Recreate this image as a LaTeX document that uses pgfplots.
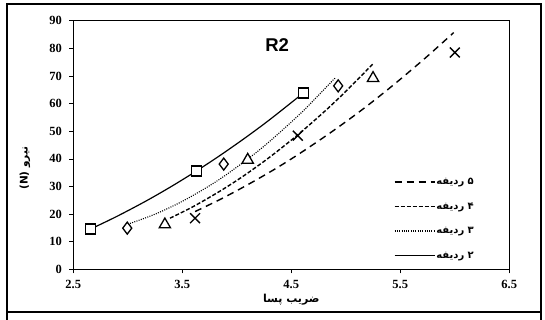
\documentclass[border=0pt]{standalone}
\usepackage{pgfplots}
\pgfplotsset{compat=1.18}
\usepackage{pgfplotstable}
\usepackage{fontspec}
\setmainfont{Liberation Serif}
\newfontfamily\arabicfont[Script=Arabic]{DejaVu Sans}
\newfontfamily\titlefont{Liberation Sans}
\TeXXeTstate=1

% measured points
\pgfplotstableread{
x y
2.66 14.6
3.63 35.6
4.61 63.8
}\rowtwo
\pgfplotstableread{
x y
2.995 14.9
3.88 38.1
4.93 66.4
}\rowthree
\pgfplotstableread{
x y
3.34 16.2
4.10 39.6
5.25 69.2
}\rowfour
\pgfplotstableread{
x y
3.617 18.5
4.56 48.4
6.0 78.5
}\rowfive

% trend curves
\pgfplotstableread{
x y
2.66 14.6
2.9 19.16
3.17 24.78
3.4 30.0
3.63 35.6
3.86 41.59
4.09 47.96
4.305 54.27
4.61 63.8
}\trendtwo
\pgfplotstableread{
x y
3.0 16.3
3.25 19.96
3.48 24.2
3.7 29.07
3.88 33.6
4.12 40.5
4.31 46.6
4.6 57.0
4.9 69.2
}\trendthree
\pgfplotstableread{
x y
3.387 18.5
3.6 22.7
3.85 28.4
4.06 33.75
4.3 40.55
4.56 48.7
4.8 56.97
5.0 64.4
5.25 74.4
}\trendfour
\pgfplotstableread{
x y
3.617 20.9
3.85 25.35
4.09 30.4
4.35 36.3
4.58 42.0
4.85 49.2
5.1 56.3
5.31 62.7
5.5 68.8
5.75 77.2
5.99 85.7
}\trendfive

\begin{document}
\begin{tikzpicture}
\useasboundingbox (-73.3pt,-50.7pt) rectangle (471.7pt,269.3pt);
\draw[line width=1.6pt] (-66.3pt,265.3pt) rectangle (467.7pt,-42.7pt);
\draw[line width=1.6pt] (-66.3pt,-42.7pt) -- (-66.3pt,-50.7pt)
                        (467.7pt,-42.7pt) -- (467.7pt,-50.7pt);
\begin{axis}[
  at={(0pt,0pt)}, anchor=south west,
  scale only axis, width=436pt, height=248.6pt,
  xmin=2.5, xmax=6.5, ymin=0, ymax=90,
  xtick={2.5,3.5,4.5,5.5,6.5},
  xticklabels={2.5,3.5,4.5,5.5,6.5},
  ytick={0,10,20,30,40,50,60,70,80,90},
  yticklabels={0,10,20,30,40,50,60,70,80,90},
  tick align=outside, xtick pos=bottom, ytick pos=left,
  major tick length=4pt,
  tick style={black, line width=0.6pt},
  axis line style={line width=1.1pt},
  ticklabel style={font=\bfseries\fontsize{12.5}{14}\selectfont},
  yticklabel style={xshift=-4pt},
  xticklabel style={yshift=-3pt},
  xlabel={\arabicfont\bfseries\beginR ضریب پسا\endR},
  xlabel style={at={(axis description cs:0.5,-0.122)}, anchor=center,
    font=\fontsize{11}{12}\selectfont},
  ylabel={\arabicfont\bfseries\beginR نیرو \beginL(N)\endL\endR},
  ylabel style={at={(axis description cs:-0.111,0.407)}, anchor=center,
    font=\fontsize{10.5}{12}\selectfont},
  legend image code/.code={\draw[#1] (0pt,0pt) -- (40pt,0pt);},
  legend style={at={(rel axis cs:0.735,0.372)}, anchor=north west,
    draw=none, fill=none, row sep=14.5pt, inner sep=0pt,
    font=\arabicfont\bfseries\fontsize{10}{11}\selectfont,
    nodes={inner sep=1pt, text height=6.5pt, text depth=1.5pt}},
  legend cell align=left,
]
% trend curves (these carry the legend)
\addplot[black, line width=1.4pt, dash pattern=on 7pt off 5pt, smooth] table {\trendfive};
\addlegendentry{\beginR ۵ ردیفه\endR}
\addplot[black, line width=1.4pt, dash pattern=on 4pt off 2pt, smooth] table {\trendfour};
\addlegendentry{\beginR ۴ ردیفه\endR}
\addplot[black, line width=1.1pt, dash pattern=on 1pt off 1.3pt, smooth] table {\trendthree};
\addlegendentry{\beginR ۳ ردیفه\endR}
\addplot[black, line width=1.2pt, smooth] table {\trendtwo};
\addlegendentry{\beginR ۲ ردیفه\endR}

% measured points
\addplot[only marks, forget plot, mark=square*, mark size=5pt,
  mark options={fill=white, draw=black, line width=1.3pt}] table {\rowtwo};
\addplot[only marks, forget plot, mark=diamond*, mark size=6pt,
  mark options={fill=white, draw=black, line width=1.3pt}] table {\rowthree};
\addplot[only marks, forget plot, mark=triangle*, mark size=6.5pt,
  mark options={fill=white, draw=black, line width=1.3pt}] table {\rowfour};
\addplot[only marks, forget plot, mark=x, mark size=7pt,
  mark options={draw=black, line width=1.4pt}] table {\rowfive};

\node[font=\titlefont\bfseries\fontsize{18.5}{20}\selectfont] at (axis cs:4.37,81.3) {R2};
\end{axis}
\end{tikzpicture}
\end{document}
